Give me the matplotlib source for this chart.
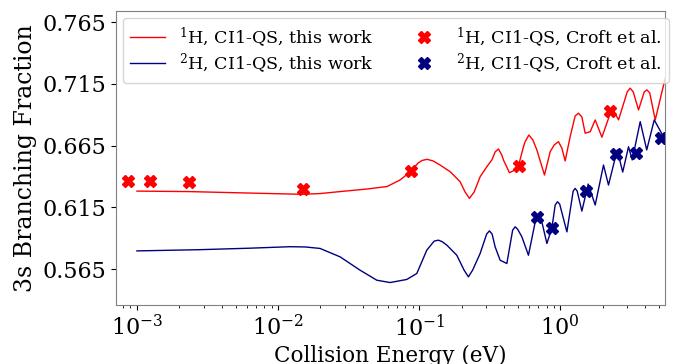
import numpy as np
import matplotlib
matplotlib.use("Agg")
import matplotlib.pyplot as plt

plt.rcParams['font.family'] = 'DejaVu Serif'
plt.rcParams['mathtext.fontset'] = 'dejavuserif'

# CI1-QS branching fraction into 3s, this work (energy in eV)
e_h1 = [1.000e-3, 2.34e-3, 6.33e-3, 0.01480, 0.01986, 0.02753, 0.04277, 0.05929,
        0.07328, 0.08635, 0.09840, 0.1050, 0.1140, 0.1257, 0.1409, 0.1660,
        0.1953, 0.2120, 0.2274, 0.2455, 0.2708, 0.3020, 0.3279, 0.3459,
        0.3650, 0.3858, 0.3962, 0.4369, 0.4797, 0.5060, 0.5492, 0.5646,
        0.5998, 0.6403, 0.6834, 0.7740, 0.8495, 0.9068, 0.9726, 1.028,
        1.085, 1.177, 1.277, 1.348, 1.425, 1.504, 1.633, 1.771,
        1.976, 2.337, 2.592, 2.987, 3.136, 3.295, 3.592, 3.942,
        4.121, 4.313, 4.718, 5.555]
bf_h1 = [0.6282, 0.6278, 0.6266, 0.6256, 0.6262, 0.6278, 0.6299, 0.6319,
         0.6372, 0.6436, 0.6509, 0.6530, 0.6539, 0.6526, 0.6493, 0.6439,
         0.6358, 0.6274, 0.6223, 0.6274, 0.6398, 0.6479, 0.6534, 0.6599,
         0.6623, 0.6574, 0.6534, 0.6431, 0.6453, 0.6485, 0.6641, 0.6682,
         0.6736, 0.6696, 0.6615, 0.6412, 0.6601, 0.6655, 0.6682, 0.6629,
         0.6526, 0.6723, 0.6890, 0.6912, 0.6882, 0.6750, 0.6763, 0.6858,
         0.6718, 0.6955, 0.6858, 0.7085, 0.7115, 0.7085, 0.6939, 0.7085,
         0.7101, 0.7077, 0.6858, 0.7196]

e_h2 = [1.000e-3, 2.80e-3, 6.33e-3, 0.01217, 0.01554, 0.01986, 0.02753, 0.03817,
        0.05012, 0.06227, 0.08180, 0.09632, 0.1134, 0.1278, 0.1370, 0.1456,
        0.1572, 0.1851, 0.2085, 0.2237, 0.2395, 0.2708, 0.3011, 0.3152,
        0.3294, 0.3459, 0.3753, 0.4188, 0.4604, 0.4797, 0.4994, 0.5352,
        0.5959, 0.6648, 0.7214, 0.8049, 0.8733, 0.9216, 0.9569, 0.9919,
        1.116, 1.236, 1.277, 1.320, 1.425, 1.580, 1.771, 2.028,
        2.200, 2.537, 2.775, 3.051, 3.241, 3.693, 4.107, 4.642, 5.555]
bf_h2 = [0.5798, 0.5808, 0.5820, 0.5832, 0.5830, 0.5818, 0.5750, 0.5642,
         0.5561, 0.5542, 0.5567, 0.5615, 0.5804, 0.5877, 0.5885, 0.5873,
         0.5845, 0.5763, 0.5642, 0.5588, 0.5642, 0.5777, 0.5934, 0.5960,
         0.5934, 0.5831, 0.5723, 0.5696, 0.5966, 0.5993, 0.5974, 0.5912,
         0.5763, 0.6031, 0.6092, 0.5858, 0.5982, 0.6169, 0.6196, 0.6177,
         0.5952, 0.6282, 0.6304, 0.6282, 0.6120, 0.6339, 0.6169, 0.6493,
         0.6331, 0.6615, 0.6436, 0.6641, 0.6534, 0.6844, 0.6615, 0.6858, 0.6696]

# Croft et al. values
e_croft_h1 = [8.67e-4, 1.236e-3, 2.34e-3, 0.01497, 0.0873, 0.509, 2.27]
bf_croft_h1 = [0.6366, 0.6366, 0.6358, 0.6299, 0.6444, 0.6487, 0.6933]
e_croft_h2 = [0.690, 0.873, 1.52, 2.48, 3.44, 5.18]
bf_croft_h2 = [0.6074, 0.5980, 0.6282, 0.6582, 0.6593, 0.6714]

yticks = [0.565, 0.615, 0.665, 0.715, 0.765]

fig = plt.figure(figsize=(6.74, 3.64), dpi=100)
ax = fig.add_subplot(111)
fig.subplots_adjust(left=0.172, right=0.987, top=0.970, bottom=0.162)

ax.semilogx(e_h1, bf_h1, '-', color='red', lw=1.0, label=r'$^{1}$H, CI1-QS, this work')
ax.semilogx(e_h2, bf_h2, '-', color='navy', lw=1.0, label=r'$^{2}$H, CI1-QS, this work')
ax.semilogx(e_croft_h1, bf_croft_h1, 'X', color='red', ms=8, ls='none',
            label=r'$^{1}$H, CI1-QS, Croft et al.')
ax.semilogx(e_croft_h2, bf_croft_h2, 'X', color='navy', ms=8, ls='none',
            label=r'$^{2}$H, CI1-QS, Croft et al.')

ax.set_xlim(7.1e-4, 5.555)
ax.set_ylim(0.536, 0.774)
ax.set_yticks(yticks)
ax.set_yticklabels(['%.3f' % t for t in yticks])
ax.tick_params(labelsize=16)

for sp in ax.spines.values():
    sp.set_color('0.5')

ax.set_xlabel('Collision Energy (eV)', fontsize=15.5, labelpad=2.5)
ax.set_ylabel('3s Branching Fraction', fontsize=17)
ax.legend(loc='upper left', ncol=2, fontsize=12.6, columnspacing=1.9,
          labelspacing=0.15, borderaxespad=0.4)

fig.savefig('out.png', dpi=100)
